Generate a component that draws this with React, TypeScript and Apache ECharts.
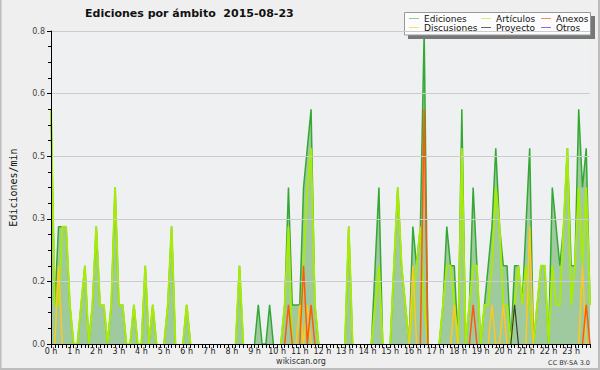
import React, { useEffect, useRef } from "react";
import * as echarts from "echarts";

const hourLabels = [
  "0 h", "1 h", "2 h", "3 h", "4 h", "5 h", "6 h", "7 h", "8 h", "9 h", "10 h", "11 h",
  "12 h", "13 h", "14 h", "15 h", "16 h", "17 h", "18 h", "19 h", "20 h", "21 h", "22 h", "23 h",
];
const slotMinutes = ["00", "10", "20", "30", "40", "50"];
const yTickValues = [0, 0.16, 0.32, 0.48, 0.64, 0.8];

// 10-minute buckets, edits per minute (one row per hour)
const ediciones = [
  0.6, 0.1, 0.3, 0.3, 0.3, 0.1,
  0, 0, 0.1, 0.2, 0, 0.1,
  0.3, 0.1, 0.1, 0, 0.1, 0.4,
  0.1, 0.1, 0, 0, 0.1, 0,
  0, 0.2, 0, 0.1, 0, 0,
  0, 0.1, 0.3, 0, 0, 0,
  0.1, 0, 0, 0, 0, 0,
  0, 0, 0, 0, 0, 0,
  0, 0, 0.2, 0, 0, 0,
  0, 0.1, 0, 0, 0.1, 0,
  0, 0, 0.1, 0.4, 0.1, 0.1,
  0.1, 0.4, 0.5, 0.6, 0.1, 0,
  0, 0, 0, 0, 0, 0,
  0, 0.3, 0, 0, 0, 0,
  0, 0, 0.2, 0.4, 0, 0,
  0, 0.2, 0.4, 0.2, 0.1, 0,
  0.3, 0.2, 0.3, 0.8, 0, 0,
  0, 0, 0.1, 0.3, 0.2, 0.2,
  0, 0.6, 0, 0.1, 0.4, 0.2,
  0, 0.1, 0.2, 0.3, 0.5, 0.3,
  0.2, 0.2, 0, 0.2, 0.2, 0.1,
  0.3, 0.5, 0, 0.1, 0.2, 0.2,
  0, 0.4, 0.3, 0.2, 0.3, 0.5,
  0.2, 0.2, 0.6, 0.4, 0.5, 0.1,
];
const articulos = [
  0.6, 0.1, 0.1, 0.3, 0.3, 0.1,
  0, 0, 0.1, 0.2, 0, 0.1,
  0.3, 0.1, 0.1, 0, 0.1, 0.4,
  0.1, 0.1, 0, 0, 0.1, 0,
  0, 0.2, 0, 0.1, 0, 0,
  0, 0.1, 0.3, 0, 0, 0,
  0.1, 0, 0, 0, 0, 0,
  0, 0, 0, 0, 0, 0,
  0, 0, 0.2, 0, 0, 0,
  0, 0, 0, 0, 0, 0,
  0, 0, 0.1, 0.3, 0, 0,
  0, 0.2, 0.4, 0.5, 0.1, 0,
  0, 0, 0, 0, 0, 0,
  0, 0.3, 0, 0, 0, 0,
  0, 0, 0.1, 0.2, 0, 0,
  0, 0.2, 0.4, 0.2, 0.1, 0,
  0.1, 0.2, 0.3, 0.1, 0, 0,
  0, 0, 0.1, 0.2, 0.2, 0.1,
  0, 0.5, 0, 0.1, 0.2, 0.2,
  0, 0.1, 0.1, 0.2, 0.4, 0.3,
  0.1, 0.1, 0, 0.1, 0.2, 0.1,
  0.2, 0.1, 0, 0.1, 0.2, 0.2,
  0, 0.2, 0.1, 0.1, 0.3, 0.5,
  0.1, 0.2, 0.4, 0.2, 0.4, 0.1,
];
const discusiones = [
  0, 0, 0.2, 0, 0, 0,
  0, 0, 0, 0, 0, 0,
  0, 0, 0, 0, 0, 0,
  0, 0, 0, 0, 0, 0,
  0, 0, 0, 0, 0, 0,
  0, 0, 0, 0, 0, 0,
  0, 0, 0, 0, 0, 0,
  0, 0, 0, 0, 0, 0,
  0, 0, 0, 0, 0, 0,
  0, 0, 0, 0, 0, 0,
  0, 0, 0, 0, 0, 0,
  0.1, 0, 0.1, 0, 0, 0,
  0, 0, 0, 0, 0, 0,
  0, 0, 0, 0, 0, 0,
  0, 0, 0, 0, 0, 0,
  0, 0, 0, 0, 0, 0,
  0.2, 0, 0, 0, 0, 0,
  0, 0, 0, 0, 0, 0.1,
  0, 0, 0, 0, 0, 0,
  0, 0, 0, 0.1, 0, 0,
  0.1, 0, 0, 0, 0, 0,
  0, 0.3, 0, 0, 0, 0,
  0, 0, 0, 0, 0, 0,
  0, 0, 0, 0.2, 0, 0,
];
const anexos = [
  0, 0, 0, 0, 0, 0,
  0, 0, 0, 0, 0, 0,
  0, 0, 0, 0, 0, 0,
  0, 0, 0, 0, 0, 0,
  0, 0, 0, 0, 0, 0,
  0, 0, 0, 0, 0, 0,
  0, 0, 0, 0, 0, 0,
  0, 0, 0, 0, 0, 0,
  0, 0, 0, 0, 0, 0,
  0, 0, 0, 0, 0, 0,
  0, 0, 0, 0.1, 0, 0,
  0, 0.2, 0, 0.1, 0, 0,
  0, 0, 0, 0, 0, 0,
  0, 0, 0, 0, 0, 0,
  0, 0, 0, 0, 0, 0,
  0, 0, 0, 0, 0, 0,
  0, 0, 0, 0.6, 0, 0,
  0, 0, 0, 0, 0, 0,
  0, 0, 0, 0, 0.1, 0,
  0, 0, 0, 0, 0, 0,
  0, 0, 0, 0, 0, 0,
  0, 0, 0, 0, 0, 0,
  0, 0, 0, 0, 0, 0,
  0, 0, 0, 0, 0.1, 0,
];
const proyecto = [
  0, 0, 0, 0, 0, 0,
  0, 0, 0, 0, 0, 0,
  0, 0, 0, 0, 0, 0,
  0, 0, 0, 0, 0, 0,
  0, 0, 0, 0, 0, 0,
  0, 0, 0, 0, 0, 0,
  0, 0, 0, 0, 0, 0,
  0, 0, 0, 0, 0, 0,
  0, 0, 0, 0, 0, 0,
  0, 0, 0, 0, 0, 0,
  0, 0, 0, 0, 0, 0,
  0, 0, 0, 0, 0, 0,
  0, 0, 0, 0, 0, 0,
  0, 0, 0, 0, 0, 0,
  0, 0, 0, 0, 0, 0,
  0, 0, 0, 0, 0, 0,
  0, 0, 0, 0, 0, 0,
  0, 0, 0, 0, 0, 0,
  0, 0, 0, 0, 0, 0,
  0, 0, 0, 0, 0, 0,
  0, 0, 0, 0.1, 0, 0,
  0, 0, 0, 0, 0, 0,
  0, 0, 0, 0, 0, 0,
  0, 0, 0, 0, 0, 0,
];
const otros = [
  0, 0, 0, 0, 0, 0,
  0, 0, 0, 0, 0, 0,
  0, 0, 0, 0, 0, 0,
  0, 0, 0, 0, 0, 0,
  0, 0, 0, 0, 0, 0,
  0, 0, 0, 0, 0, 0,
  0, 0, 0, 0, 0, 0,
  0, 0, 0, 0, 0, 0,
  0, 0, 0, 0, 0, 0,
  0, 0, 0, 0, 0, 0,
  0, 0, 0, 0, 0, 0,
  0, 0, 0, 0, 0, 0,
  0, 0, 0, 0, 0, 0,
  0, 0, 0, 0, 0, 0,
  0, 0, 0, 0, 0, 0,
  0, 0, 0, 0, 0, 0,
  0, 0, 0, 0, 0, 0,
  0, 0, 0, 0, 0, 0,
  0, 0, 0, 0, 0, 0,
  0, 0, 0, 0, 0, 0,
  0, 0, 0, 0, 0, 0,
  0, 0, 0, 0, 0, 0,
  0, 0, 0, 0, 0, 0,
  0, 0, 0, 0, 0, 0,
];

const seriesDefs = [
  { name: "Ediciones", data: ediciones, color: "#34a834", legend: "#8fd08f", width: 1.5 },
  { name: "Artículos", data: articulos, color: "#a8ea0a", legend: "#d2f07a", width: 2 },
  { name: "Discusiones", data: discusiones, color: "#ffc81a", legend: "#ffd96a", width: 1.5 },
  { name: "Anexos", data: anexos, color: "#ff5a0a", legend: "#f0915a", width: 1.5 },
  { name: "Proyecto", data: proyecto, color: "#3a3a3a", legend: "#666666", width: 1.2 },
  { name: "Otros", data: otros, color: "#8a3cf0", legend: "#a060f0", width: 1.2 },
];
const legendColumns = [
  ["Ediciones", "Discusiones"],
  ["Artículos", "Proyecto"],
  ["Anexos", "Otros"],
];
const legendColumnLeft = [409, 481, 541];

const FONT = "DejaVu Sans";

// hide runs of zeros lying on the baseline (the axis covers them in the original)
function trimZeroRuns(values: number[]): (number | null)[] {
  return values.map((v, i) => {
    if (v !== 0) return v;
    const prev = i > 0 ? values[i - 1] : 0;
    const next = i < values.length - 1 ? values[i + 1] : 0;
    return prev === 0 && next === 0 ? null : 0;
  });
}

export default function App() {
  const ref = useRef<HTMLDivElement>(null);
  useEffect(() => {
    if (!ref.current) return;
    const chart = echarts.init(ref.current, null, { renderer: "svg" });
    const categories: string[] = [];
    hourLabels.forEach((h, hi) => {
      slotMinutes.forEach((m) => categories.push(`${hi}:${m}`));
    });
    const legends = legendColumns.map((col, ci) => ({
      orient: "vertical",
      left: legendColumnLeft[ci],
      top: 14,
      padding: 0,
      itemGap: 0,
      itemWidth: 10,
      itemHeight: 9,
      textStyle: { fontFamily: FONT, fontSize: 9, color: "#111" },
      data: col.map((n) => {
        const d = seriesDefs.find((s) => s.name === n)!;
        return { name: n, icon: "path://M0,4.5 L10,4.5 L10,5.5 L0,5.5 Z", itemStyle: { color: d.legend } };
      }),
    }));
    const option: any = {
      animation: false,
      backgroundColor: "#efefef",
      title: {
        text: "Ediciones por ámbito  2015-08-23",
        left: 85,
        top: 8,
        padding: 0,
        textStyle: { fontFamily: FONT, fontSize: 11, fontWeight: "bold", color: "#111" },
      },
      grid: {
        left: 47,
        right: 10,
        top: 31,
        bottom: 26,
        show: true,
        backgroundColor: "#eef0f2",
        borderWidth: 0,
      },
      legend: legends,
      xAxis: {
        type: "category",
        data: categories,
        boundaryGap: false,
        z: 20,
        axisLine: { lineStyle: { color: "#000", width: 1 } },
        axisTick: { interval: 0, length: 4, lineStyle: { color: "#000" } },
        axisLabel: {
          interval: 5,
          margin: 3,
          fontFamily: FONT,
          fontSize: 8,
          color: "#222",
          formatter: (_v: string, idx: number) => hourLabels[Math.floor(idx / 6)],
        },
        splitLine: { show: false },
      },
      yAxis: {
        type: "value",
        min: yTickValues[0],
        max: yTickValues[yTickValues.length - 1],
        interval: yTickValues[1],
        name: "Ediciones/min",
        nameLocation: "middle",
        nameGap: 33,
        z: 20,
        nameTextStyle: { fontFamily: "DejaVu Sans Mono", fontSize: 10, color: "#111" },
        axisLine: { show: true, lineStyle: { color: "#000", width: 1 } },
        axisTick: { show: true, length: 4, lineStyle: { color: "#000" } },
        minorTick: { show: true, splitNumber: 4, length: 3, lineStyle: { color: "#000" } },
        axisLabel: {
          margin: 6,
          fontFamily: FONT,
          fontSize: 8,
          color: "#444",
          formatter: (v: number) => v.toFixed(1),
        },
        splitLine: { show: true, lineStyle: { color: "#cccccc", width: 1 } },
      },
      graphic: [
        { type: "rect", shape: { x: 408, y: 16, width: 187, height: 23 }, style: { fill: "#777" }, z: 3 },
        { type: "rect", shape: { x: 404.5, y: 12.5, width: 186, height: 22.5 }, style: { fill: "#fcfcfc", stroke: "#999", lineWidth: 1 }, z: 3 },
        {
          type: "text",
          x: 301,
          y: 361,
          style: { text: "wikiscan.org", fontFamily: FONT, fontSize: 8, fill: "#333", textAlign: "center", textVerticalAlign: "middle" },
        },
        {
          type: "text",
          x: 590,
          y: 362.5,
          style: { text: "CC BY-SA 3.0", fontFamily: FONT, fontSize: 6.5, fill: "#333", textAlign: "right", textVerticalAlign: "middle" },
        },
        {
          type: "polyline",
          shape: { points: [[0.5, 0], [0.5, 369], [599, 369], [599, 0]] },
          style: { stroke: "#bdbdbd", lineWidth: 2, fill: null },
        },
      ],
      series: seriesDefs.map((s, i) => ({
        name: s.name,
        type: "line",
        data: trimZeroRuns(s.data),
        symbol: "none",
        z: 2 + i,
        lineStyle: { color: s.color, width: s.width },
        itemStyle: { color: s.color },
        areaStyle: i === 0 ? { color: "#9fca9f", opacity: 1 } : undefined,
      })),
    };
    chart.setOption(option);
    return () => chart.dispose();
  }, []);
  return <div ref={ref} style={{ position: "absolute", left: 0, top: 0, width: 600, height: 370 }} />;
}
